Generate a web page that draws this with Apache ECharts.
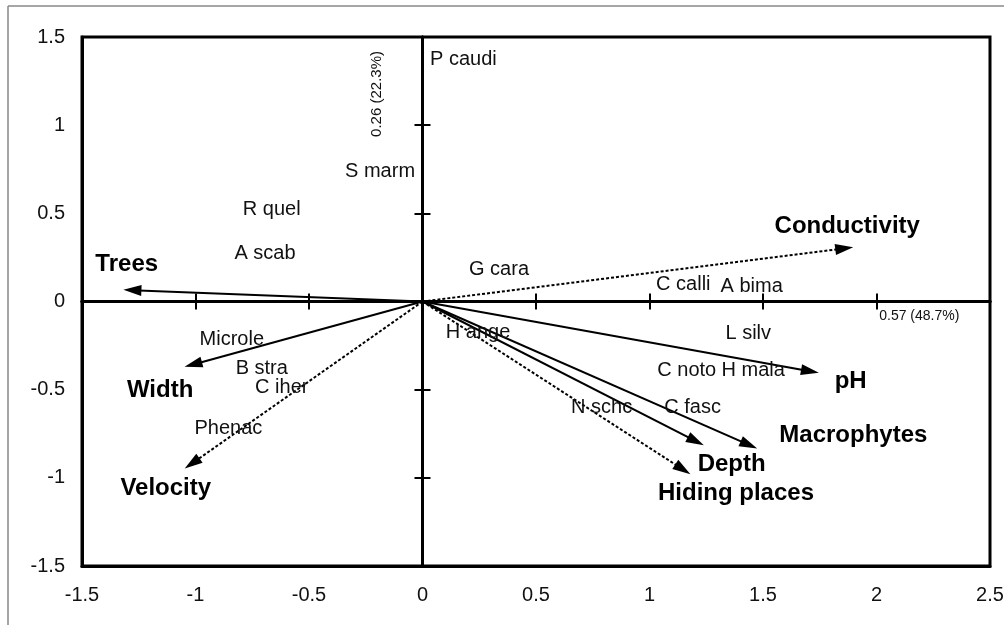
<!DOCTYPE html>
<html>
<head>
<meta charset="utf-8">
<script src="https://cdn.jsdelivr.net/npm/echarts@6/dist/echarts.min.js"></script>
<style>
html,body{margin:0;padding:0;background:#fff;}
#chart{width:1007px;height:625px;}
</style>
</head>
<body>
<div id="chart"></div>
<script>
// Environmental variable vectors (arrow ends)
const solidVars = [
  ['Trees', -1.278, 0.064],
  ['Width', -1.010, -0.357],
  ['pH', 1.707, -0.395],
  ['Macrophytes', 1.438, -0.813],
  ['Depth', 1.204, -0.792]
];
const dottedVars = [
  ['Conductivity', 1.858, 0.301],
  ['Velocity', -1.015, -0.918],
  ['Hiding places', 1.147, -0.952]
];
// Variable label positions
const varLabels = [
  ['Trees', -1.303, 0.213],
  ['Conductivity', 1.871, 0.428],
  ['Width', -1.156, -0.506],
  ['Velocity', -1.131, -1.06],
  ['pH', 1.886, -0.455],
  ['Macrophytes', 1.898, -0.757],
  ['Depth', 1.362, -0.922],
  ['Hiding places', 1.381, -1.088]
];
// Species scores
const species = [
  ['P caudi', 0.18, 1.37],
  ['S marm', -0.187, 0.736],
  ['R quel', -0.664, 0.519],
  ['A scab', -0.694, 0.273],
  ['G cara', 0.337, 0.179],
  ['C calli', 1.149, 0.099],
  ['A bima', 1.45, 0.084],
  ['Microle', -0.84, -0.215],
  ['B stra', -0.708, -0.379],
  ['C iher', -0.62, -0.487],
  ['Phenac', -0.855, -0.72],
  ['H ange', 0.245, -0.173],
  ['L silv', 1.435, -0.184],
  ['C noto', 1.164, -0.389],
  ['H mala', 1.457, -0.389],
  ['N schc', 0.789, -0.6],
  ['C fasc', 1.19, -0.6]
];
const axis1Note = ['0.57 (48.7%)', 2.012, -0.082];
const axis2Note = ['0.26 (22.3%)', -0.2, 1.177];
const xRange = [-1.5, 2.5];
const yRange = [-1.5, 1.5];
const step = 0.5;

const FONT = '"Liberation Sans", Arial, sans-serif';
const chart = echarts.init(document.getElementById('chart'));

function xAx(extra) {
  return Object.assign({
    type: 'value', min: xRange[0], max: xRange[1], interval: step,
    splitLine: {show: false}, axisTick: {show: false},
    axisLabel: {show: false},
    axisLine: {show: false}
  }, extra);
}
function yAx(extra) {
  return Object.assign({
    type: 'value', min: yRange[0], max: yRange[1], interval: step,
    splitLine: {show: false}, axisTick: {show: false},
    axisLabel: {show: false},
    axisLine: {show: false}
  }, extra);
}
const zeroLine = {show: true, onZero: true, lineStyle: {color: '#000', width: 3}};
const tickStyle = {color: '#000', width: 2};

function arrows(list, type) {
  return {
    type: 'lines', coordinateSystem: 'cartesian2d', xAxisIndex: 0, yAxisIndex: 0,
    silent: true, z: 5,
    symbol: ['none', 'triangle'],
    symbolSize: [0, [11, 18]],
    lineStyle: {color: '#000', width: 2, type: type, opacity: 1, curveness: 0},
    data: list.map(d => ({name: d[0], coords: [[0, 0], [d[1], d[2]]]}))
  };
}
function labels(list, style) {
  return {
    type: 'scatter', xAxisIndex: 0, yAxisIndex: 0, silent: true, z: 6,
    symbolSize: 0,
    itemStyle: {opacity: 1},
    label: Object.assign({show: true, position: 'inside', formatter: p => p.data[2], fontFamily: FONT, opacity: 1}, style),
    emphasis: {disabled: true},
    data: list.map(d => [d[1], d[2], d[0]])
  };
}

chart.setOption({
  backgroundColor: '#fff',
  animation: false,
  grid: {left: 82, top: 37, right: 17, bottom: 59, show: true, borderColor: '#000', borderWidth: 3, backgroundColor: 'transparent'},
  xAxis: [
    xAx({position: 'bottom', axisLine: {show: true, onZero: false, lineStyle: {color: '#000', width: 3}},
      axisLabel: {show: true, margin: 19, fontSize: 20, color: '#111', fontFamily: FONT}}),
    xAx({position: 'bottom', axisLine: zeroLine, axisTick: {show: true, length: 8, lineStyle: tickStyle}}),
    xAx({position: 'bottom', axisLine: zeroLine, axisTick: {show: true, inside: true, length: 8, lineStyle: tickStyle}})
  ],
  yAxis: [
    yAx({position: 'left', axisLine: {show: true, onZero: false, lineStyle: {color: '#000', width: 3}},
      axisLabel: {show: true, margin: 17, fontSize: 20, color: '#111', fontFamily: FONT}}),
    yAx({position: 'left', axisLine: zeroLine, axisTick: {show: true, length: 8, lineStyle: tickStyle}}),
    yAx({position: 'left', axisLine: zeroLine, axisTick: {show: true, inside: true, length: 8, lineStyle: tickStyle}})
  ],
  graphic: [
    {type: 'line', shape: {x1: 8, y1: 6, x2: 1004, y2: 6}, style: {stroke: '#888', lineWidth: 1.5}},
    {type: 'line', shape: {x1: 8, y1: 6, x2: 8, y2: 625}, style: {stroke: '#888', lineWidth: 1.5}}
  ],
  series: [
    arrows(solidVars, 'solid'),
    arrows(dottedVars, [3, 2]),
    labels(species, {fontSize: 20, color: '#111'}),
    labels(varLabels, {fontSize: 24, fontWeight: 'bold', color: '#000'}),
    labels([axis1Note], {fontSize: 14, color: '#111', align: 'left'}),
    labels([axis2Note], {fontSize: 15, color: '#111', rotate: 90})
  ]
});
</script>
</body>
</html>
